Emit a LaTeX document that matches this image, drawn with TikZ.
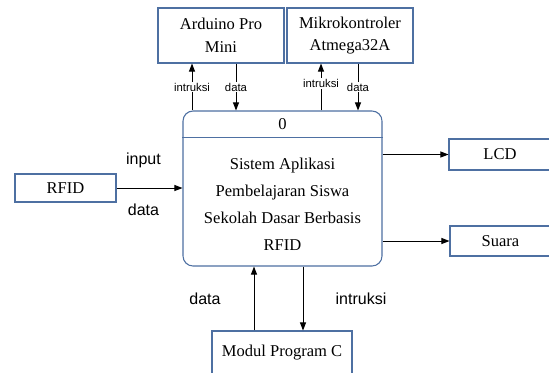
\documentclass[tikz,border=0pt]{standalone}
\usepackage{fontspec}
\setmainfont{Liberation Serif}
\setsansfont{Liberation Sans}
\usepackage{tikz}
\usetikzlibrary{arrows.meta, positioning, calc}
\usepackage{xcolor}
\definecolor{garisbiru}{RGB}{78,112,162}

\newlength\pxu
\setlength\pxu{0.75pt}

\tikzset{
  kotak/.style={draw=garisbiru, line width=0.8pt, fill=white, inner sep=2pt, align=center, font={\fontsize{12.4}{17}\selectfont}},
  panah/.style={-{Triangle[length=6pt, width=4.5pt]}, line width=0.75pt},
  ketkecil/.style={fill=white, inner sep=1pt, font={\sffamily\fontsize{8.5}{10}\selectfont}},
  ketbesar/.style={font=\sffamily\large}
}

\begin{document}
\begin{tikzpicture}[x=0.75pt, y=-0.75pt]
    \useasboundingbox (0,0) rectangle (549,372);

    % Blok-blok utama diagram konteks
    \node[kotak, minimum width=126\pxu, minimum height=55\pxu] (arduino) at (221,35.5) {Arduino Pro\\Mini};
    \node[kotak, minimum width=126\pxu, minimum height=55\pxu] (mikro) at (350,35.5) {Mikrokontroler\\Atmega32A};

    \node[kotak, rounded corners=7.5pt, minimum width=199\pxu, minimum height=155\pxu] (sistem) at (282.5,188.5) {};
    \draw[garisbiru, line width=0.8pt] ([yshift=-27\pxu]sistem.north west) -- ([yshift=-27\pxu]sistem.north east);
    \node[font={\fontsize{12.4}{15}\selectfont}] (nomor) at ([yshift=-14\pxu]sistem.north) {0};
    \node[align=center, font={\fontsize{12.4}{20.3}\selectfont}] (judul) at ([yshift=-16\pxu]sistem.center)
        {Sistem Aplikasi\\Pembelajaran Siswa\\Sekolah Dasar Berbasis\\RFID};

    \node[kotak, minimum width=101\pxu, minimum height=28\pxu] (rfid) at (65.5,188) {RFID};
    \node[kotak, minimum width=102\pxu, minimum height=31\pxu] (lcd) at (500,154.5) {LCD};
    \node[kotak, minimum width=101\pxu, minimum height=30\pxu] (suara) at (500.5,241) {Suara};
    \node[kotak, minimum width=140\pxu, minimum height=43\pxu] (modul) at (282,352.5) {Modul Program C};

    % Aliran dari/ke blok atas
    \draw[panah] ([xshift=-29\pxu]arduino.south |- sistem.north) -- ([xshift=-29\pxu]arduino.south)
        node[ketkecil, pos=0.5] {intruksi};
    \draw[panah] ([xshift=15\pxu]arduino.south) -- ([xshift=15\pxu]arduino.south |- sistem.north)
        node[ketkecil, pos=0.5] {data};
    \draw[panah] ([xshift=-29\pxu]mikro.south |- sistem.north) -- ([xshift=-29\pxu]mikro.south)
        node[ketkecil, pos=0.58] {intruksi};
    \draw[panah] ([xshift=8\pxu]mikro.south) -- ([xshift=8\pxu]mikro.south |- sistem.north)
        node[ketkecil, pos=0.5] {data};

    % Masukan dan keluaran samping
    \draw[panah] (rfid.east) -- (rfid.east -| sistem.west)
        node[ketbesar, midway, xshift=-6\pxu, yshift=28\pxu] {input}
        node[ketbesar, midway, xshift=-6\pxu, yshift=-22\pxu] {data};
    \draw[panah] (sistem.east |- lcd.west) -- (lcd.west);
    \draw[panah] (sistem.east |- suara.west) -- (suara.west);

    % Aliran ke modul program
    \draw[panah] ([xshift=-28\pxu]modul.north) -- ([xshift=-28\pxu]modul.north |- sistem.south)
        node[ketbesar, midway, xshift=-49\pxu] {data};
    \draw[panah] ([xshift=21\pxu]modul.north |- sistem.south) -- ([xshift=21\pxu]modul.north)
        node[ketbesar, midway, xshift=58\pxu] {intruksi};
\end{tikzpicture}
\end{document}
